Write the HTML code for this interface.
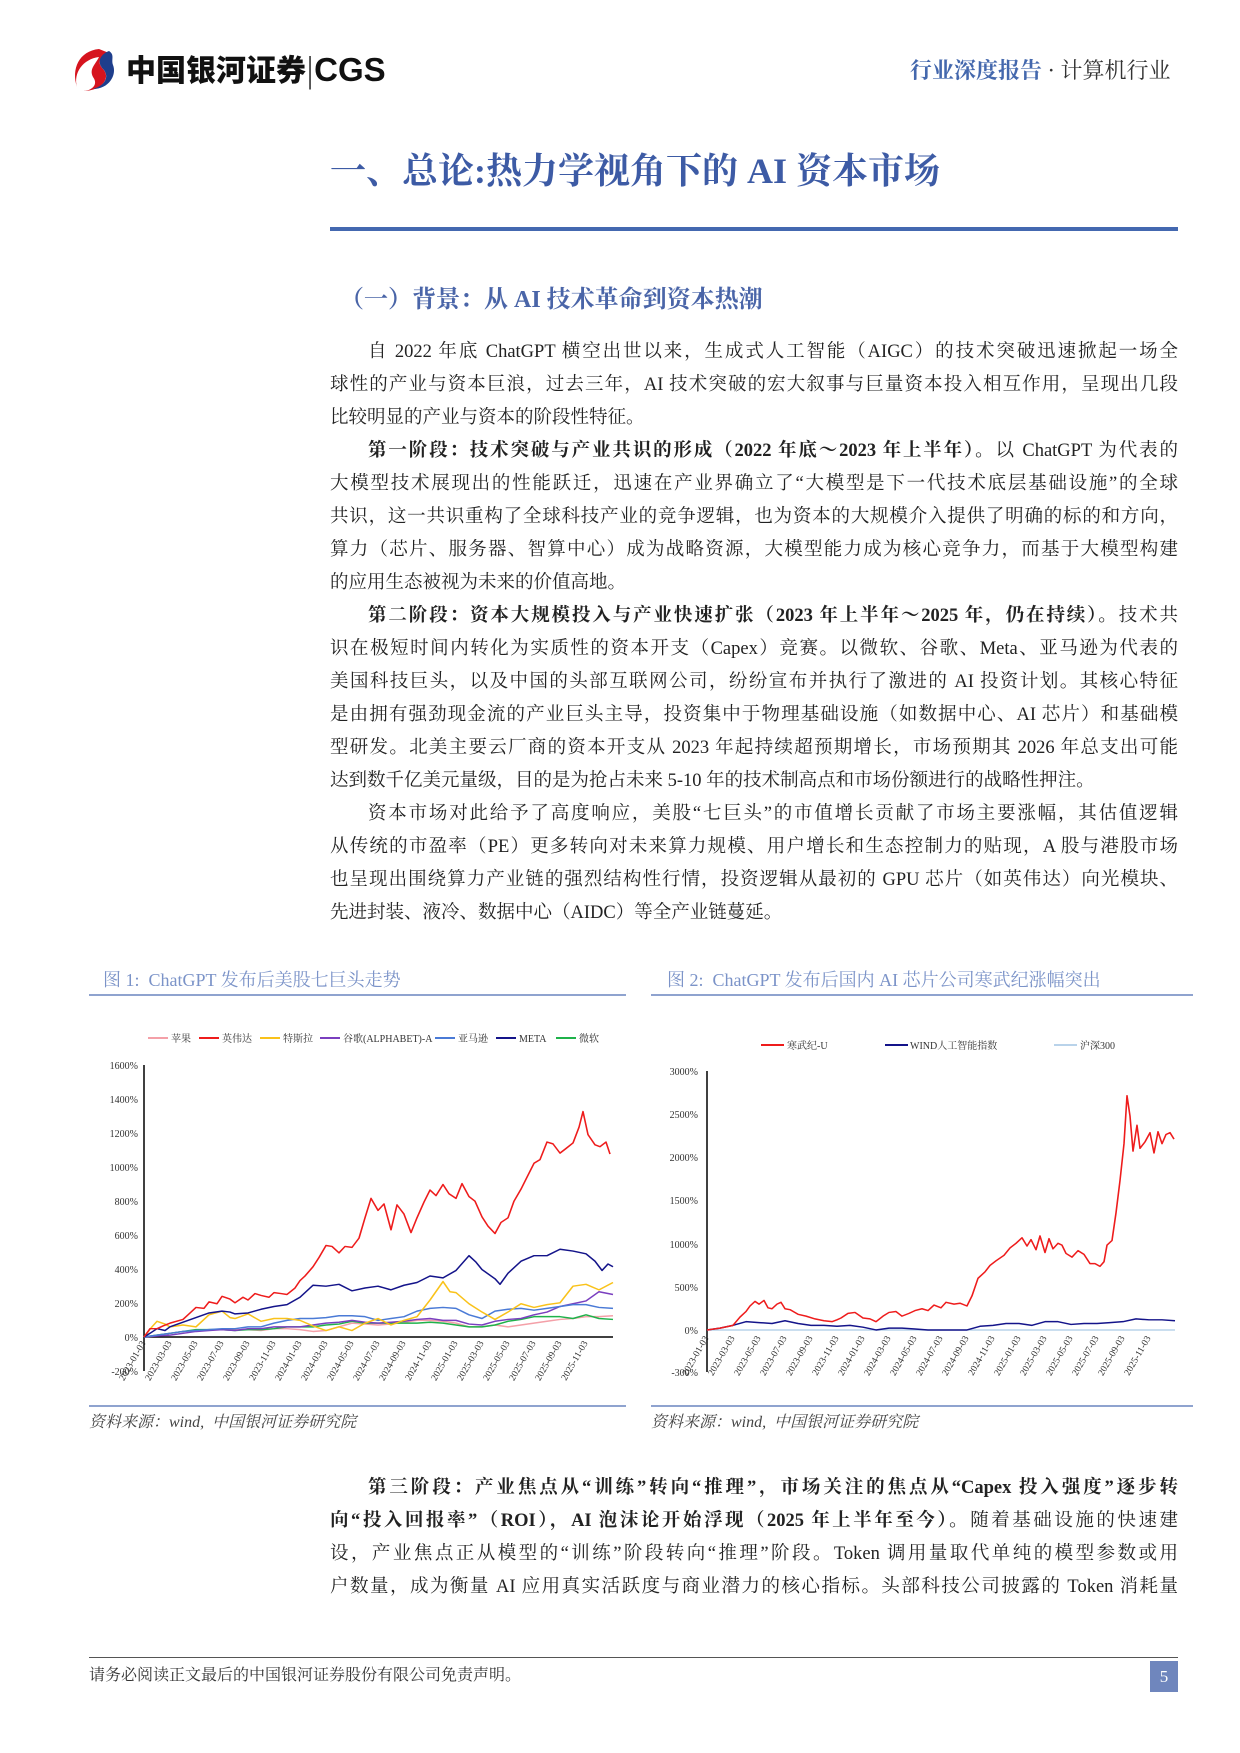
<!DOCTYPE html>
<html><head><meta charset="utf-8"><style>
body{margin:0;background:#fff;}
#pg{position:relative;width:1240px;height:1753px;overflow:hidden;font-family:"Liberation Serif","Noto Serif CJK SC",serif;color:#222;}
.a{position:absolute;white-space:nowrap;}
.ln{position:absolute;left:330px;width:848px;height:33px;font-size:18.5px;line-height:33px;text-align:justify;text-align-last:justify;white-space:nowrap;}
.ln.i{left:368px;width:810px;}
.ln.e{text-align-last:left;}
b{font-weight:bold;}
</style></head><body><div id="pg">
<svg class="a" style="left:69px;top:47px" width="50" height="45" viewBox="0 0 50 45"><path d="M30 2 C10 4 2 22 8 40 C4 26 14 12 30 10 C26 18 20 22 24 30 C30 38 22 44 14 44 C34 44 42 30 34 22 C28 16 30 10 40 6 Z" fill="#d6141e"/><path d="M40 4 C30 8 28 16 34 22 C40 28 38 38 24 42 C40 42 48 28 44 18 C42 12 46 8 40 4Z" fill="#1e3e8c"/></svg>
<div class="a" style="left:126px;top:48px;font-family:'Noto Sans CJK SC',sans-serif;font-weight:900;font-size:30px;line-height:40px;color:#111;">中国银河证券<span style="font-weight:400;color:#555">|</span><span style="font-family:'Liberation Sans',sans-serif;font-weight:bold;font-size:33px">CGS</span></div>
<div class="a" style="left:910px;top:55px;font-family:'Noto Serif CJK SC',serif;font-weight:bold;font-size:22px;line-height:30px;color:#4468ad;">行业深度报告<span style="color:#333;font-weight:normal"> · 计算机行业</span></div>
<div class="a" style="left:330px;top:148px;font-family:'Liberation Serif','Noto Serif CJK SC',serif;font-weight:bold;font-size:36px;line-height:46px;color:#3d5ba5;">一、总论:热力学视角下的 AI 资本市场</div>
<div class="a" style="left:330px;top:227px;width:848px;height:4px;background:#4468b0"></div>
<div class="a" style="left:340px;top:284px;font-weight:bold;font-size:24px;line-height:32px;color:#4a65a8;">（一）背景：从 AI 技术革命到资本热潮</div>

<div class="ln i" style="top:336px">自 2022 年底 ChatGPT 横空出世以来，生成式人工智能（AIGC）的技术突破迅速掀起一场全</div>
<div class="ln" style="top:369px">球性的产业与资本巨浪，过去三年，AI 技术突破的宏大叙事与巨量资本投入相互作用，呈现出几段</div>
<div class="ln e" style="top:402px">比较明显的产业与资本的阶段性特征。</div>
<div class="ln i" style="top:435px"><b>第一阶段：技术突破与产业共识的形成（2022 年底～2023 年上半年）。</b>以 ChatGPT 为代表的</div>
<div class="ln" style="top:468px">大模型技术展现出的性能跃迁，迅速在产业界确立了“大模型是下一代技术底层基础设施”的全球</div>
<div class="ln" style="top:501px">共识，这一共识重构了全球科技产业的竞争逻辑，也为资本的大规模介入提供了明确的标的和方向，</div>
<div class="ln" style="top:534px">算力（芯片、服务器、智算中心）成为战略资源，大模型能力成为核心竞争力，而基于大模型构建</div>
<div class="ln e" style="top:567px">的应用生态被视为未来的价值高地。</div>
<div class="ln i" style="top:600px"><b>第二阶段：资本大规模投入与产业快速扩张（2023 年上半年～2025 年，仍在持续）。</b>技术共</div>
<div class="ln" style="top:633px">识在极短时间内转化为实质性的资本开支（Capex）竞赛。以微软、谷歌、Meta、亚马逊为代表的</div>
<div class="ln" style="top:666px">美国科技巨头，以及中国的头部互联网公司，纷纷宣布并执行了激进的 AI 投资计划。其核心特征</div>
<div class="ln" style="top:699px">是由拥有强劲现金流的产业巨头主导，投资集中于物理基础设施（如数据中心、AI 芯片）和基础模</div>
<div class="ln" style="top:732px">型研发。北美主要云厂商的资本开支从 2023 年起持续超预期增长，市场预期其 2026 年总支出可能</div>
<div class="ln e" style="top:765px">达到数千亿美元量级，目的是为抢占未来 5-10 年的技术制高点和市场份额进行的战略性押注。</div>
<div class="ln i" style="top:798px">资本市场对此给予了高度响应，美股“七巨头”的市值增长贡献了市场主要涨幅，其估值逻辑</div>
<div class="ln" style="top:831px">从传统的市盈率（PE）更多转向对未来算力规模、用户增长和生态控制力的贴现，A 股与港股市场</div>
<div class="ln" style="top:864px">也呈现出围绕算力产业链的强烈结构性行情，投资逻辑从最初的 GPU 芯片（如英伟达）向光模块、</div>
<div class="ln e" style="top:897px">先进封装、液冷、数据中心（AIDC）等全产业链蔓延。</div>

<div class="a" style="left:103px;top:967px;font-size:18px;line-height:26px;color:#7b93c8;">图 1:&nbsp; ChatGPT 发布后美股七巨头走势</div>
<div class="a" style="left:667px;top:967px;font-size:18px;line-height:26px;color:#7b93c8;">图 2:&nbsp; ChatGPT 发布后国内 AI 芯片公司寒武纪涨幅突出</div>
<div class="a" style="left:89px;top:994px;width:537px;height:2px;background:#8fa3cf"></div>
<div class="a" style="left:651px;top:994px;width:542px;height:2px;background:#8fa3cf"></div>
<div class="a" style="left:89px;top:1405px;width:537px;height:2px;background:#8fa3cf"></div>
<div class="a" style="left:651px;top:1405px;width:542px;height:2px;background:#8fa3cf"></div>
<div class="a" style="left:89px;font-size:16px;line-height:22px;font-style:italic;color:#444;top:1412px">资料来源：wind,&nbsp; 中国银河证券研究院</div>
<div class="a" style="left:651px;font-size:16px;line-height:22px;font-style:italic;color:#444;top:1412px">资料来源：wind,&nbsp; 中国银河证券研究院</div>

<svg class="a" style="left:0;top:0" width="1240" height="1753" font-family="Liberation Serif,Noto Serif CJK SC,serif">
<g font-size="10" fill="#333">
<g stroke-width="2">
<line x1="148" y1="1038" x2="168" y2="1038" stroke="#f4a0a8"/><text x="171" y="1042" stroke="none">苹果</text>
<line x1="199" y1="1038" x2="219" y2="1038" stroke="#ee1c1c"/><text x="222" y="1042" stroke="none">英伟达</text>
<line x1="260" y1="1038" x2="280" y2="1038" stroke="#f9c21a"/><text x="283" y="1042" stroke="none">特斯拉</text>
<line x1="320" y1="1038" x2="340" y2="1038" stroke="#7a3fbf"/><text x="343" y="1042" stroke="none">谷歌(ALPHABET)-A</text>
<line x1="435" y1="1038" x2="455" y2="1038" stroke="#4a7ad6"/><text x="458" y="1042" stroke="none">亚马逊</text>
<line x1="496" y1="1038" x2="516" y2="1038" stroke="#14148a"/><text x="519" y="1042" stroke="none">META</text>
<line x1="556" y1="1038" x2="576" y2="1038" stroke="#1fb24a"/><text x="579" y="1042" stroke="none">微软</text>
</g>
<g text-anchor="end">
<text x="138" y="1069">1600%</text><text x="138" y="1103">1400%</text><text x="138" y="1137">1200%</text><text x="138" y="1171">1000%</text><text x="138" y="1205">800%</text><text x="138" y="1239">600%</text><text x="138" y="1273">400%</text><text x="138" y="1307">200%</text><text x="138" y="1341">0%</text><text x="138" y="1375">-200%</text>
</g>
<line x1="144" y1="1065" x2="144" y2="1371" stroke="#000" stroke-width="1.5"/>
<line x1="144" y1="1337" x2="613" y2="1337" stroke="#000" stroke-width="1.5"/>
<g text-anchor="end" font-size="9.5">
<text transform="translate(146,1343) rotate(-60)">2023-01-03</text><text transform="translate(172,1343) rotate(-60)">2023-03-03</text><text transform="translate(198,1343) rotate(-60)">2023-05-03</text><text transform="translate(224,1343) rotate(-60)">2023-07-03</text><text transform="translate(250,1343) rotate(-60)">2023-09-03</text><text transform="translate(276,1343) rotate(-60)">2023-11-03</text><text transform="translate(302,1343) rotate(-60)">2024-01-03</text><text transform="translate(328,1343) rotate(-60)">2024-03-03</text><text transform="translate(354,1343) rotate(-60)">2024-05-03</text><text transform="translate(380,1343) rotate(-60)">2024-07-03</text><text transform="translate(406,1343) rotate(-60)">2024-09-03</text><text transform="translate(432,1343) rotate(-60)">2024-11-03</text><text transform="translate(458,1343) rotate(-60)">2025-01-03</text><text transform="translate(484,1343) rotate(-60)">2025-03-03</text><text transform="translate(510,1343) rotate(-60)">2025-05-03</text><text transform="translate(536,1343) rotate(-60)">2025-07-03</text><text transform="translate(562,1343) rotate(-60)">2025-09-03</text><text transform="translate(588,1343) rotate(-60)">2025-11-03</text>
</g>
<g fill="none" stroke-width="1.6" stroke-linejoin="round" transform="matrix(1 0 0 0.924 0 72.04)">
<polyline stroke="#f4a0a8" points="144,1369 157,1367 170,1365 183,1363 196,1362 209,1361 222,1361 235,1361 248,1361 261,1362 274,1360 287,1360 300,1361 313,1363 326,1362 339,1358 352,1354 365,1355 378,1356 391,1355 404,1353 417,1351 430,1351 443,1352 456,1354 469,1358 482,1358 495,1356 508,1358 521,1356 534,1354 547,1352 560,1350 573,1349 586,1347 599,1347 613,1346"/>
<polyline stroke="#1fb24a" points="144,1369 157,1367 170,1365 183,1363 196,1361 209,1361 222,1361 235,1362 248,1361 261,1361 274,1360 287,1358 300,1358 313,1358 326,1356 339,1355 352,1352 365,1354 378,1354 391,1354 404,1354 417,1354 430,1353 443,1354 456,1356 469,1358 482,1358 495,1356 508,1352 521,1350 534,1347 547,1347 560,1347 573,1349 586,1345 599,1349 613,1350"/>
<polyline stroke="#7a3fbf" points="144,1369 157,1368 170,1367 183,1365 196,1363 209,1362 222,1361 235,1362 248,1360 261,1360 274,1358 287,1358 300,1358 313,1356 326,1354 339,1353 352,1351 365,1353 378,1354 391,1353 404,1352 417,1350 430,1349 443,1351 456,1351 469,1355 482,1356 495,1352 508,1350 521,1349 534,1345 547,1342 560,1336 573,1333 586,1330 599,1320 613,1323"/>
<polyline stroke="#4a7ad6" points="144,1369 157,1367 170,1365 183,1363 196,1362 209,1361 222,1360 235,1360 248,1358 261,1358 274,1354 287,1351 300,1349 313,1349 326,1348 339,1346 352,1346 365,1347 378,1351 391,1349 404,1347 417,1341 430,1338 443,1337 456,1338 469,1345 482,1349 495,1341 508,1339 521,1338 534,1340 547,1338 560,1336 573,1334 586,1334 599,1337 613,1338"/>
<polyline stroke="#f9c21a" points="144,1369 152,1358 157,1352 165,1355 170,1358 183,1356 196,1358 209,1345 222,1341 230,1348 235,1349 248,1344 261,1352 274,1349 287,1349 300,1351 313,1357 326,1362 339,1358 352,1362 365,1354 378,1349 391,1356 404,1351 417,1347 430,1329 443,1309 450,1320 456,1321 469,1333 482,1342 495,1350 508,1342 521,1333 534,1337 547,1334 560,1332 573,1314 586,1312 599,1318 613,1310"/>
<polyline stroke="#14148a" points="144,1369 150,1365 157,1360 165,1362 170,1358 183,1353 196,1348 209,1343 222,1341 230,1342 235,1344 248,1343 261,1339 274,1336 287,1334 300,1326 313,1313 326,1314 339,1312 350,1318 352,1319 365,1316 378,1314 391,1318 404,1313 417,1310 430,1303 443,1305 456,1297 469,1281 476,1288 482,1296 495,1306 500,1312 508,1300 521,1287 534,1281 547,1281 560,1274 573,1276 586,1279 595,1287 602,1297 608,1290 613,1293"/>
<polyline stroke="#ee1c1c" points="144,1369 150,1360 157,1360 163,1357 170,1354 183,1350 190,1343 196,1337 204,1338 209,1331 217,1333 222,1325 230,1328 235,1332 243,1326 248,1329 255,1322 261,1324 269,1326 274,1321 281,1322 287,1323 295,1316 300,1308 305,1303 313,1293 319,1283 326,1270 332,1271 339,1278 345,1271 352,1272 359,1262 365,1240 371,1219 378,1232 384,1225 391,1253 397,1226 404,1236 411,1256 417,1240 424,1223 430,1210 436,1216 443,1204 449,1214 456,1219 462,1203 469,1217 475,1222 482,1239 488,1249 495,1257 501,1245 508,1240 514,1222 521,1209 527,1196 534,1181 540,1177 547,1158 553,1160 560,1170 566,1165 573,1159 579,1142 583,1125 588,1150 595,1161 600,1163 606,1158 610,1171"/>
</g>
<g stroke-width="2">
<line x1="761" y1="1045" x2="784" y2="1045" stroke="#ee1c1c"/><text x="787" y="1049" stroke="none">寒武纪-U</text>
<line x1="885" y1="1045" x2="908" y2="1045" stroke="#14148a"/><text x="910" y="1049" stroke="none">WIND人工智能指数</text>
<line x1="1054" y1="1045" x2="1077" y2="1045" stroke="#b9d3ea"/><text x="1080" y="1049" stroke="none">沪深300</text>
</g>
<g text-anchor="end">
<text x="698" y="1075">3000%</text><text x="698" y="1118">2500%</text><text x="698" y="1161">2000%</text><text x="698" y="1204">1500%</text><text x="698" y="1248">1000%</text><text x="698" y="1291">500%</text><text x="698" y="1334">0%</text><text x="698" y="1376">-300%</text>
</g>
<line x1="707" y1="1071" x2="707" y2="1372" stroke="#000" stroke-width="1.5"/>
<line x1="707" y1="1330" x2="1175" y2="1330" stroke="#000" stroke-width="1"/>
<g text-anchor="end" font-size="9.5">
<text transform="translate(709,1338) rotate(-60)">2023-01-03</text><text transform="translate(735,1338) rotate(-60)">2023-03-03</text><text transform="translate(761,1338) rotate(-60)">2023-05-03</text><text transform="translate(787,1338) rotate(-60)">2023-07-03</text><text transform="translate(813,1338) rotate(-60)">2023-09-03</text><text transform="translate(839,1338) rotate(-60)">2023-11-03</text><text transform="translate(865,1338) rotate(-60)">2024-01-03</text><text transform="translate(891,1338) rotate(-60)">2024-03-03</text><text transform="translate(917,1338) rotate(-60)">2024-05-03</text><text transform="translate(943,1338) rotate(-60)">2024-07-03</text><text transform="translate(969,1338) rotate(-60)">2024-09-03</text><text transform="translate(995,1338) rotate(-60)">2024-11-03</text><text transform="translate(1021,1338) rotate(-60)">2025-01-03</text><text transform="translate(1047,1338) rotate(-60)">2025-03-03</text><text transform="translate(1073,1338) rotate(-60)">2025-05-03</text><text transform="translate(1099,1338) rotate(-60)">2025-07-03</text><text transform="translate(1125,1338) rotate(-60)">2025-09-03</text><text transform="translate(1151,1338) rotate(-60)">2025-11-03</text>
</g>
<g fill="none" stroke-width="1.6" stroke-linejoin="round" transform="matrix(1 0 0 0.922 0 74.2)">
<polyline stroke="#b9d3ea" points="707,1362 1175,1362"/>
<polyline stroke="#14148a" points="707,1362 720,1360 733,1357 746,1353 759,1354 772,1355 785,1352 798,1355 811,1357 824,1357 837,1358 850,1357 863,1359 876,1362 889,1360 902,1360 915,1361 928,1362 941,1362 954,1362 967,1362 980,1358 993,1357 1006,1355 1019,1355 1032,1357 1045,1353 1058,1353 1071,1356 1084,1355 1097,1355 1110,1354 1123,1353 1136,1350 1149,1351 1162,1351 1175,1352"/>
<polyline stroke="#ee1c1c" points="707,1362 720,1360 733,1357 740,1348 746,1342 750,1336 755,1331 759,1334 764,1330 768,1338 772,1339 777,1334 781,1332 785,1339 790,1340 798,1345 806,1347 815,1350 824,1352 832,1353 837,1351 841,1349 848,1344 855,1343 863,1349 870,1350 876,1353 883,1347 889,1343 896,1342 902,1347 909,1344 915,1341 922,1339 928,1341 934,1335 941,1338 946,1332 954,1334 960,1333 967,1336 972,1325 978,1306 985,1299 990,1292 996,1287 1004,1281 1010,1273 1016,1268 1022,1262 1027,1271 1031,1264 1036,1275 1040,1260 1045,1278 1049,1263 1053,1274 1058,1268 1062,1270 1066,1279 1072,1283 1078,1276 1084,1280 1090,1290 1095,1290 1100,1293 1104,1288 1107,1270 1112,1265 1116,1235 1120,1200 1124,1160 1127,1108 1130,1130 1133,1168 1137,1140 1140,1165 1145,1158 1150,1148 1154,1170 1158,1147 1162,1160 1166,1150 1170,1148 1174,1155"/>
</g>
</g>
</svg>

<div class="ln i" style="top:1472px"><b>第三阶段：产业焦点从“训练”转向“推理”，市场关注的焦点从“Capex 投入强度”逐步转</b></div>
<div class="ln" style="top:1505px"><b>向“投入回报率”（ROI），AI 泡沫论开始浮现（2025 年上半年至今）。</b>随着基础设施的快速建</div>
<div class="ln" style="top:1538px">设，产业焦点正从模型的“训练”阶段转向“推理”阶段。Token 调用量取代单纯的模型参数或用</div>
<div class="ln" style="top:1571px">户数量，成为衡量 AI 应用真实活跃度与商业潜力的核心指标。头部科技公司披露的 Token 消耗量</div>

<div class="a" style="left:89px;top:1657px;width:1089px;height:1px;background:#555"></div>
<div class="a" style="left:89px;top:1665px;font-size:16px;line-height:22px;color:#333;">请务必阅读正文最后的中国银河证券股份有限公司免责声明。</div>
<div class="a" style="left:1150px;top:1661px;width:28px;height:31px;background:#6f86bd;color:#fff;font-size:17px;line-height:31px;text-align:center;">5</div>
</div></body></html>
